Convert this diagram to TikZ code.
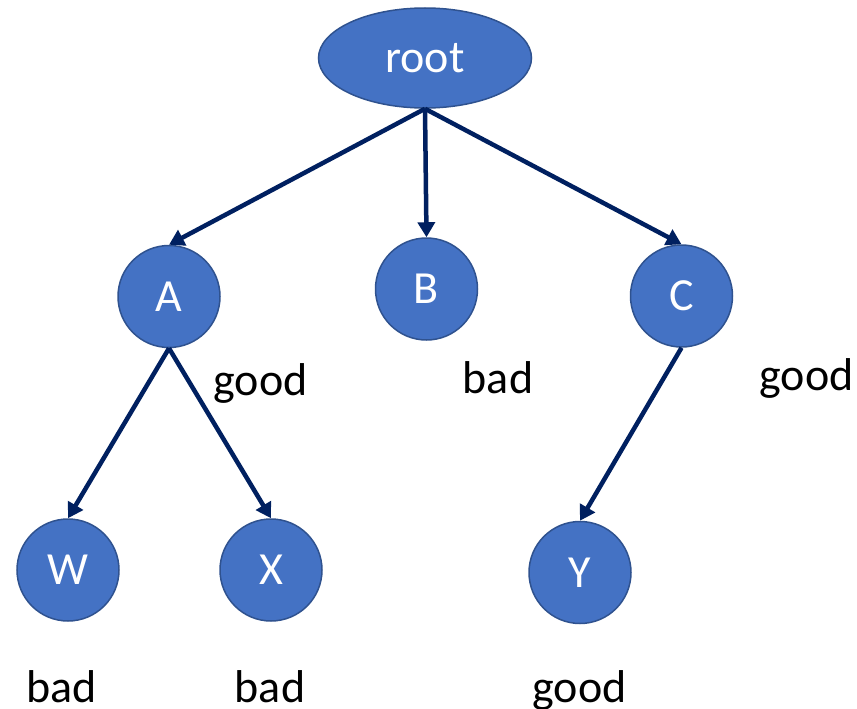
\documentclass[tikz,border=0pt]{standalone}
\usepackage{fontspec}
\setmainfont{Carlito}
\usetikzlibrary{shapes.geometric,arrows.meta}
\definecolor{nodefill}{HTML}{4472C4}
\definecolor{nodeline}{HTML}{2F528F}
\definecolor{arrowcol}{HTML}{002060}
\tikzset{
  treenode/.style={circle,fill=nodefill,draw=nodeline,line width=1.5pt,minimum size=102pt,inner sep=0pt,text=white,font=\fontsize{46}{55}\selectfont},
  rootnode/.style={ellipse,fill=nodefill,draw=nodeline,line width=1.5pt,minimum width=213pt,minimum height=100pt,inner sep=0pt,text=white,font=\fontsize{46}{55}\selectfont},
  tag/.style={anchor=base,inner sep=0pt,font=\fontsize{46}{55}\selectfont},
  edge/.style={draw=arrowcol,line width=4.5pt,-{Triangle[length=15pt,width=17pt]}}
}
\begin{document}
\begin{tikzpicture}[x=1pt,y=-1pt]
\useasboundingbox (0,0) rectangle (857,709);
\node[rootnode] (root) at (425,58) {root};
\node[treenode] (A) at (169,296.5) {A};
\node[treenode] (B) at (426.5,289) {B};
\node[treenode] (C) at (681.5,296) {C};
\node[treenode] (W) at (68,570) {W};
\node[treenode] (X) at (271,570) {X};
\node[treenode] (Y) at (580,572.5) {Y};
\draw[edge] (root.south) -- (A.north);
\draw[edge] (root.south) -- (B.north);
\draw[edge] (root.south) -- (C.north);
\draw[edge] (A.south) -- (W.north);
\draw[edge] (A.south) -- (X.north);
\draw[edge] (C.south) -- (Y.north);
\node[tag] (gA) at (260.5,395) {good};
\node[tag] (bB) at (498,393) {bad};
\node[tag] (gC) at (806.5,390) {good};
\node[tag] (bW) at (62,702) {bad};
\node[tag] (bX) at (270,702) {bad};
\node[tag] (gY) at (579.5,702) {good};
\end{tikzpicture}
\end{document}
